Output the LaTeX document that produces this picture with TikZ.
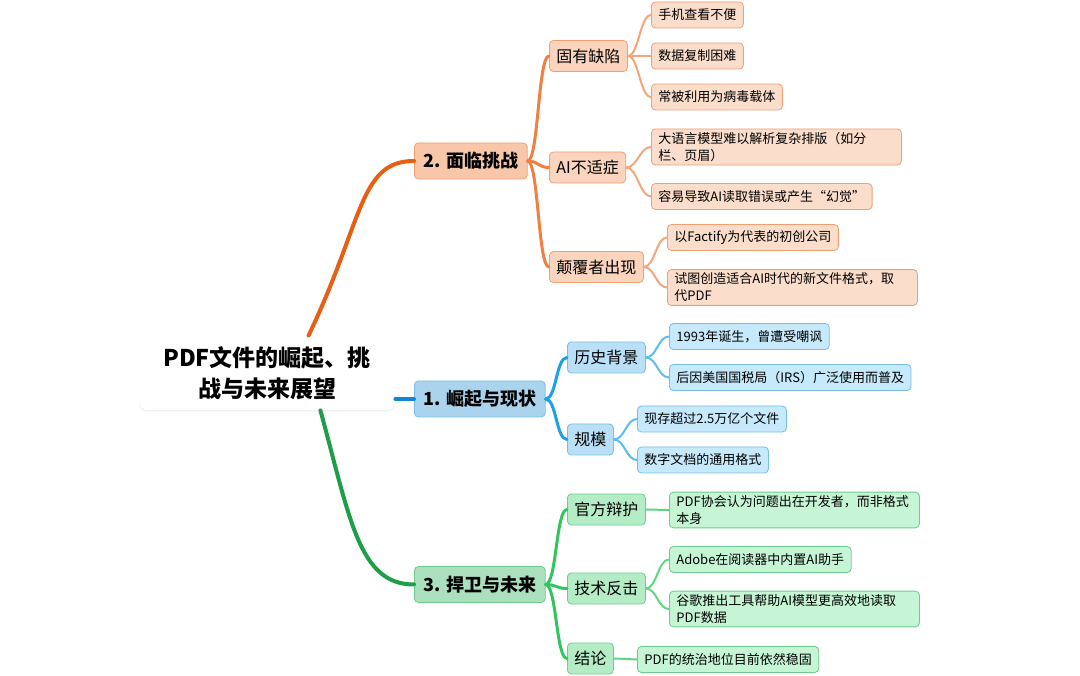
\documentclass[tikz,border=0pt]{standalone}
\usepackage{fontspec}
\setmainfont{Noto Sans CJK SC}
\usetikzlibrary{shadows}
\definecolor{orangeline}{RGB}{232,94,18}
\definecolor{orangesub}{RGB}{240,128,64}
\definecolor{orangeleaf}{RGB}{245,165,120}
\definecolor{orangetopic}{RGB}{248,198,168}
\definecolor{orangebox}{RGB}{250,212,188}
\definecolor{orangeleafbox}{RGB}{251,221,203}
\definecolor{orangeedge}{RGB}{240,160,115}
\definecolor{blueline}{RGB}{16,136,208}
\definecolor{bluesub}{RGB}{30,160,230}
\definecolor{blueleaf}{RGB}{90,190,240}
\definecolor{bluetopic}{RGB}{170,212,238}
\definecolor{bluebox}{RGB}{185,224,246}
\definecolor{blueleafbox}{RGB}{198,233,251}
\definecolor{blueedge}{RGB}{120,190,230}
\definecolor{greenline}{RGB}{30,158,72}
\definecolor{greensub}{RGB}{50,196,95}
\definecolor{greenleaf}{RGB}{95,215,130}
\definecolor{greentopic}{RGB}{170,224,190}
\definecolor{greenbox}{RGB}{180,236,198}
\definecolor{greenleafbox}{RGB}{198,245,214}
\definecolor{greenedge}{RGB}{110,205,140}

\begin{document}
\begin{tikzpicture}[x=1pt,y=-1pt,
  every node/.style={anchor=west,rounded corners=4pt,line width=0.8pt,align=left},
  topic/.style={fill=#1topic,draw=#1edge,font=\bfseries\fontsize{18}{22}\selectfont,inner xsep=9pt,minimum height=36pt},
  sub/.style={fill=#1box,draw=#1edge,font=\fontsize{16}{20}\selectfont,inner xsep=7pt,minimum height=31pt},
  leaf/.style={fill=#1leafbox,draw=#1edge,font=\fontsize{13}{17}\selectfont,inner xsep=7pt,minimum height=26pt},
  wide/.style={text width=236pt},
  trunk/.style={draw=#1line,line width=4pt,line cap=round},
  twig/.style={draw=#1sub,line width=3pt,line cap=round},
  stem/.style={draw=#1leaf,line width=2pt,line cap=round}]
  \useasboundingbox (0,0) rectangle (1080,676);

  % central topic
  \node[anchor=center,fill=white,rounded corners=8pt,minimum width=256pt,minimum height=74pt,
        align=center,font=\bfseries\fontsize{23}{31}\selectfont,
        drop shadow={opacity=0.12,shadow xshift=0pt,shadow yshift=-1.5pt}]
    (root) at (267,373) {PDF文件的崛起、挑\\战与未来展望};

  % main branches
  \node[topic=orange] (b2) at (414,161) {2. 面临挑战};
  \node[topic=blue] (b1) at (414,399) {1. 崛起与现状};
  \node[topic=green] (b3) at (414,584.5) {3. 捍卫与未来};

  % 2. challenges
  \node[sub=orange] (s21) at (549,56) {固有缺陷};
  \node[sub=orange] (s22) at (549,167.5) {AI不适症};
  \node[sub=orange] (s23) at (549,267) {颠覆者出现};
  \node[leaf=orange] (l211) at (651,15) {手机查看不便};
  \node[leaf=orange] (l212) at (651,56) {数据复制困难};
  \node[leaf=orange] (l213) at (651,97) {常被利用为病毒载体};
  \node[leaf=orange,wide] (l221) at (651,147) {大语言模型难以解析复杂排版（如分\\栏、页眉）};
  \node[leaf=orange] (l222) at (651,196.5) {容易导致AI读取错误或产生“幻觉”};
  \node[leaf=orange] (l231) at (667,237.5) {以Factify为代表的初创公司};
  \node[leaf=orange,wide] (l232) at (667,287.5) {试图创造适合AI时代的新文件格式，取\\代PDF};

  % 1. rise and status
  \node[sub=blue] (s11) at (567,357.5) {历史背景};
  \node[sub=blue] (s12) at (567,439.5) {规模};
  \node[leaf=blue] (l111) at (669,336.5) {1993年诞生，曾遭受嘲讽};
  \node[leaf=blue] (l112) at (669,377.5) {后因美国国税局（IRS）广泛使用而普及};
  \node[leaf=blue] (l121) at (637,419) {现存超过2.5万亿个文件};
  \node[leaf=blue] (l122) at (637,460) {数字文档的通用格式};

  % 3. defence and future
  \node[sub=green] (s31) at (567,509.5) {官方辩护};
  \node[sub=green] (s32) at (567,588.5) {技术反击};
  \node[sub=green] (s33) at (567,658.5) {结论};
  \node[leaf=green,wide] (l311) at (669,510) {PDF协会认为问题出在开发者，而非格式\\本身};
  \node[leaf=green] (l321) at (669,559.5) {Adobe在阅读器中内置AI助手};
  \node[leaf=green,wide] (l322) at (669,609) {谷歌推出工具帮助AI模型更高效地读取\\PDF数据};
  \node[leaf=green] (l331) at (637,659.5) {PDF的统治地位目前依然稳固};

  % connectors
  \draw[trunk=orange] (root.42) .. controls +(55,-115) and +(-55,0) .. (b2.west);
  \draw[trunk=blue] (root.east |- b1.west) -- (b1.west);
  \draw[trunk=green] (root.-35) .. controls +(30,110) and +(-55,0) .. (b3.west);
  \foreach \a/\b/\c in {b2/s21/orange,b2/s22/orange,b2/s23/orange,
                        b1/s11/blue,b1/s12/blue,
                        b3/s31/green,b3/s32/green,b3/s33/green}
    \draw[twig=\c] (\a.east) .. controls +(11,0) and +(-11,0) .. (\b.west);
  \foreach \a/\b/\c in {s21/l211/orange,s21/l212/orange,s21/l213/orange,
                        s22/l221/orange,s22/l222/orange,s23/l231/orange,s23/l232/orange,
                        s11/l111/blue,s11/l112/blue,s12/l121/blue,s12/l122/blue,
                        s31/l311/green,s32/l321/green,s32/l322/green,s33/l331/green}
    \draw[stem=\c] (\a.east) .. controls +(11,0) and +(-11,0) .. (\b.west);
\end{tikzpicture}
\end{document}
